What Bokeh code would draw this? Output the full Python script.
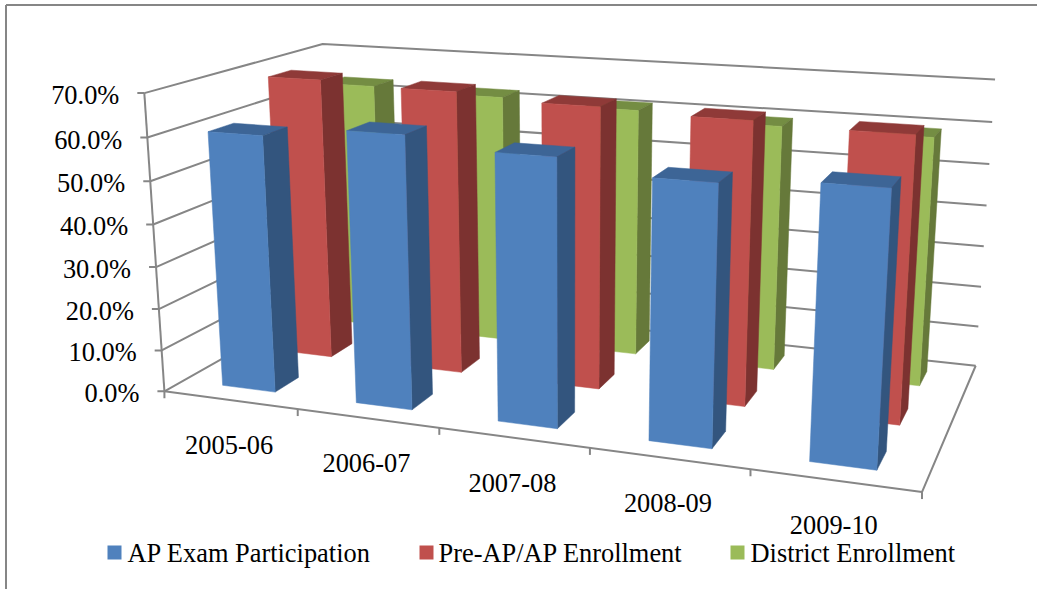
import numpy as np
from bokeh.plotting import figure
from bokeh.embed import file_html
from bokeh.resources import INLINE
from bokeh.core.properties import value

# Chart data (percent)
categories = ["2005-06", "2006-07", "2007-08", "2008-09", "2009-10"]
ap_exam = [60.5, 63.0, 60.6, 57.7, 59.3]
pre_ap = [68.8, 68.0, 66.6, 65.7, 64.9]
district = [63.0, 62.2, 61.1, 59.5, 59.2]
series_names = ["AP Exam Participation", "Pre-AP/AP Enrollment", "District Enrollment"]
value_ticks = [0, 10, 20, 30, 40, 50, 60, 70]

# Shades per series: front, right side, top
FRONT = ["#4F81BD", "#C0504D", "#9BBB59"]
SIDE = ["#33557E", "#7C3230", "#66793A"]
TOP = ["#3D6596", "#8F3A38", "#748D43"]
AXIS = "#868686"
FONT = value("Liberation Serif")
FONT_SIZE = "26.4px"
LINE = 2.0

W, H = 1037, 589

# Perspective camera: (category, value / 10, depth, 1) -> homogeneous page pixels
CAMERA = np.array([
    [124.65, -3.8441, 231.12, 163.92],
    [5.817, -43.228, -38.498, 390.82],
    [-0.029154, -0.0067692, 0.18997, 1.0],
])

BAR_GAP = 0.3        # share of a category left empty on each side of a bar
DEPTH_GAP = 0.1      # share of the depth left empty in front of the first series
DEPTH_BAR = 0.4 / 3  # depth of one bar


def project(cat, val, depth):
    q = CAMERA @ np.array([cat, val / 10.0, depth, 1.0])
    return q[0] / q[2], q[1] / q[2]


def face(corners):
    pts = [project(*c) for c in corners]
    return [a for a, _ in pts], [b for _, b in pts]


p = figure(width=W, height=H, x_range=(0, W), y_range=(H, 0),
           toolbar_location=None, output_backend="svg", min_border=0)
p.axis.visible = False
p.grid.visible = False
p.outline_line_color = None

# Chart frame
p.line([5.5, 5.5], [H, 4.5], line_color=AXIS, line_width=2)
p.line([5.5, W], [4.5, 4.5], line_color=AXIS, line_width=2)

ncat = len(categories)

# Gridlines along the side wall and the back wall
for v in value_ticks:
    xs, ys = face([(0, v, 0), (0, v, 1), (ncat, v, 1)])
    p.line(xs, ys, line_color=AXIS, line_width=LINE)

# Floor edges, value axis and their tick marks
xs, ys = face([(0, 0, 0), (ncat, 0, 0), (ncat, 0, 1)])
p.line(xs, ys, line_color=AXIS, line_width=LINE)
xs, ys = face([(0, 0, 0), (0, 70, 0)])
p.line(xs, ys, line_color=AXIS, line_width=LINE)

for v in value_ticks:
    x, y = project(0, v, 0)
    p.line([x - 7, x], [y, y], line_color=AXIS, line_width=LINE)
    p.text([x - 25], [y + 2], text=[f"{v:.1f}%"], text_font=FONT, text_font_size=FONT_SIZE,
           text_align="right", text_baseline="middle", text_color="#000000")

for i in range(ncat + 1):
    x, y = project(i, 0, 0)
    p.line([x, x], [y, y + 7], line_color=AXIS, line_width=LINE)

for i, label in enumerate(categories):
    x, y = project(i + 0.5, 0, 0)
    p.text([x - 1], [y + 45], text=[label], text_font=FONT, text_font_size=FONT_SIZE,
           text_align="center", text_baseline="middle", text_color="#000000")

# Columns, back series first so nearer ones cover them
for s, vals in reversed(list(enumerate([ap_exam, pre_ap, district]))):
    z0 = DEPTH_GAP + s / 3.0
    z1 = z0 + DEPTH_BAR
    for i, v in enumerate(vals):
        x0, x1 = i + BAR_GAP, i + 1 - BAR_GAP
        faces = [
            ([(x0, v, z0), (x1, v, z0), (x1, v, z1), (x0, v, z1)], TOP[s]),
            ([(x1, 0, z0), (x1, v, z0), (x1, v, z1), (x1, 0, z1)], SIDE[s]),
            ([(x0, 0, z0), (x1, 0, z0), (x1, v, z0), (x0, v, z0)], FRONT[s]),
        ]
        for corners, color in faces:
            xs, ys = face(corners)
            p.patch(xs, ys, fill_color=color, line_color=color, line_width=0.5)

# Legend row
swatch_left = [107, 419, 730]
label_left = [127, 438, 750]
for s, name in enumerate(series_names):
    p.quad(left=[swatch_left[s]], right=[swatch_left[s] + 14], top=[545], bottom=[559],
           fill_color=FRONT[s], line_color=None)
    p.text([label_left[s]], [552], text=[name], text_font=FONT, text_font_size=FONT_SIZE,
           text_align="left", text_baseline="middle", text_color="#000000")

open("out.html", "w").write(file_html(p, INLINE))
